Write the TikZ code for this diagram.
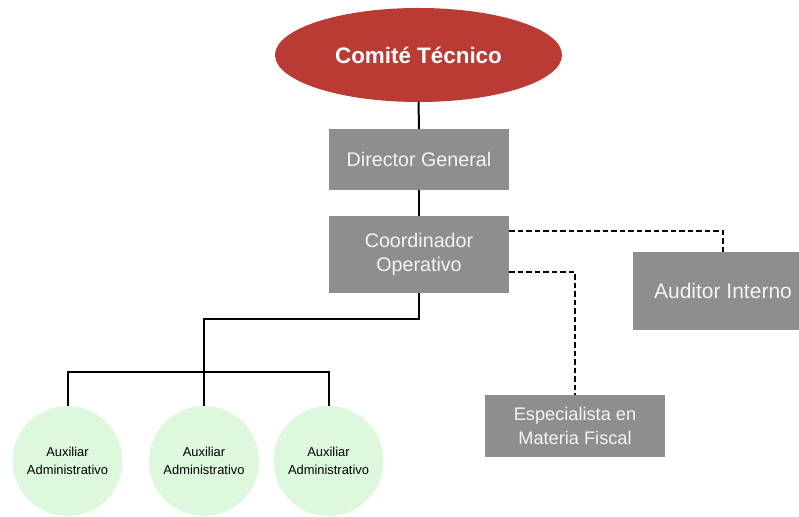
\documentclass[tikz,border=0pt]{standalone}
\usepackage{fontspec}
\setmainfont{Liberation Sans}
\usepackage{xcolor}
\usepackage{tikz}
\usetikzlibrary{shapes.geometric}

\definecolor{comitered}{HTML}{B93B34}
\definecolor{boxgray}{HTML}{8E8E8E}
\definecolor{boxtext}{HTML}{F4F4F4}
\definecolor{auxgreen}{HTML}{DDF8DD}

\tikzset{
  grayunit/.style={fill=boxgray, text=boxtext, align=center, inner sep=0pt},
  auxunit/.style={circle, fill=auxgreen, minimum size=110pt, inner sep=0pt,
                  align=center, font=\fontsize{12.9}{17.5}\selectfont},
  link/.style={line width=2pt},
  dotlink/.style={line width=1.8pt, dash pattern=on 5.5pt off 3pt}
}

\begin{document}
\begin{tikzpicture}[x=1pt, y=1pt]
  % Frame
  \useasboundingbox (0,0) rectangle (799,516);

  % Head of the chart
  \node[ellipse, fill=comitered, text=white, minimum width=287pt, minimum height=94pt,
        inner sep=0pt, font=\bfseries\fontsize{22.4}{26}\selectfont] (comite) at (418.5,461) {Comité Técnico};

  % Main line
  \node[grayunit, minimum width=180pt, minimum height=61pt, font=\fontsize{19.7}{23}\selectfont]
    (director) at (419,356.5) {Director General};
  \node[grayunit, minimum width=180pt, minimum height=77pt, font=\fontsize{19.7}{23.5}\selectfont]
    (coord) at (419,261.5) {Coordinador\\Operativo};

  % Staff units
  \node[grayunit, minimum width=180pt, minimum height=78pt, font=\fontsize{21}{25}\selectfont]
    (auditor) at (723,225) {Auditor Interno};
  \node[grayunit, minimum width=180pt, minimum height=62pt, font=\fontsize{18.2}{24}\selectfont]
    (fiscal) at (575,90) {Especialista en\\Materia Fiscal};

  % Assistants
  \node[auxunit] (auxA) at (67.5,55) {Auxiliar\\Administrativo};
  \node[auxunit] (auxB) at (204,55) {Auxiliar\\Administrativo};
  \node[auxunit] (auxC) at (328.5,55) {Auxiliar\\Administrativo};

  % Junctions
  \coordinate (split) at (419,197);
  \coordinate (bar) at (204,144);

  % Solid lines
  \draw[link] (comite.south) -- (director.north);
  \draw[link] (director.south) -- (coord.north);
  \draw[link] (coord.south) -- (split) -| (auxB.north);
  \draw[link] (auxA.north) |- (bar) -| (auxC.north);

  % Dashed lines
  \draw[dotlink] ([yshift=23.5pt]coord.east) -| (auditor.north);
  \draw[dotlink] ([yshift=-17.5pt]coord.east) -| (fiscal.north);
\end{tikzpicture}
\end{document}
